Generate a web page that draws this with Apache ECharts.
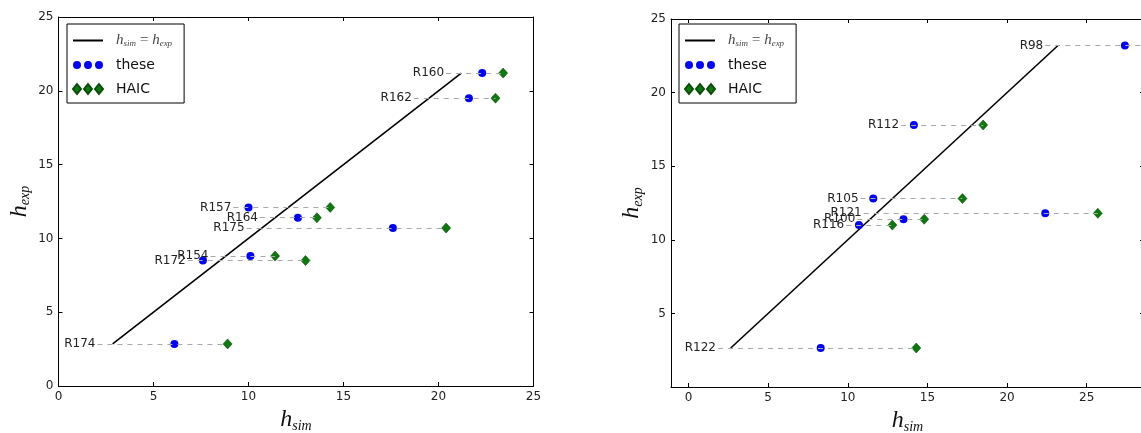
<!DOCTYPE html>
<html>
<head>
<meta charset="utf-8">
<script src="https://cdn.jsdelivr.net/npm/echarts@6/dist/echarts.min.js"></script>
<style>
  html, body { margin: 0; padding: 0; background: #fff; }
  #chart { width: 1141px; height: 433px; }
</style>
</head>
<body>
<div id="chart"></div>
<script>
// left panel
var names1 = ['R160', 'R162', 'R157', 'R164', 'R175', 'R154', 'R172', 'R174'];
var exp1   = [21.2, 19.5, 12.1, 11.4, 10.7, 8.8, 8.5, 2.85];
var these1 = [22.3, 21.6, 10.0, 12.6, 17.6, 10.1, 7.6, 6.1];
var haic1  = [23.4, 23.0, 14.3, 13.6, 20.4, 11.4, 13.0, 8.9];

// right panel
var names2 = ['R98', 'R112', 'R105', 'R121', 'R100', 'R116', 'R122'];
var exp2   = [23.2, 17.8, 12.8, 11.8, 11.4, 11.0, 2.65];
var these2 = [27.4, 14.15, 11.6, 22.4, 13.5, 10.7, 8.3];
var haic2  = [30.5, 18.5, 17.2, 25.7, 14.8, 12.8, 14.3];

var ticks = [0, 5, 10, 15, 20, 25, 30];

var FONT = 'DejaVu Sans';
var mathRich = {
  h: { fontFamily: 'Liberation Serif', fontStyle: 'italic', fontSize: 24, color: '#111' },
  s: { fontFamily: 'Liberation Serif', fontStyle: 'italic', fontSize: 14, color: '#111', padding: [12, 0, 0, 0] }
};

function pts(xs, ys) {
  return xs.map(function (x, i) { return [x, ys[i]]; });
}

// dashed guide from just left of the smallest value to the largest (cut at the axis end)
function guides(names, exp, these, haic, xMax) {
  return names.map(function (n, i) {
    var lo = Math.min(exp[i], these[i], haic[i]);
    var hi = Math.min(Math.max(exp[i], these[i], haic[i]), xMax);
    return [{ name: n, coord: [lo - 0.8, exp[i]] }, { coord: [hi, exp[i]] }];
  });
}

function panelSeries(ax, names, exp, these, haic, xMax) {
  var lo = Math.min.apply(null, exp), hi = Math.max.apply(null, exp);
  return [
    {
      name: 'guides', type: 'scatter', xAxisIndex: ax, yAxisIndex: ax, data: [], z: 1,
      markLine: {
        silent: true, symbol: ['none', 'none'], animation: false,
        lineStyle: { type: [5, 5], color: '#a8a8a8', width: 1 },
        label: { show: true, position: 'start', formatter: '{b}', fontFamily: FONT, fontSize: 12, color: '#222', distance: 2 },
        data: guides(names, exp, these, haic, xMax)
      }
    },
    {
      name: 'diag', type: 'line', xAxisIndex: ax, yAxisIndex: ax, z: 3,
      symbol: 'none', lineStyle: { color: '#000', width: 1.6 }, itemStyle: { color: '#000' },
      data: [[lo, lo], [hi, hi]]
    },
    {
      name: 'these', type: 'scatter', xAxisIndex: ax, yAxisIndex: ax, z: 4,
      symbol: 'circle', symbolSize: 8, itemStyle: { color: '#0000ff', opacity: 1 },
      data: pts(these, exp)
    },
    {
      name: 'HAIC', type: 'scatter', xAxisIndex: ax, yAxisIndex: ax, z: 4,
      symbol: 'diamond', symbolSize: [9, 10],
      itemStyle: { color: '#0a7a0a', borderColor: '#0b4d0b', borderWidth: 0.6, opacity: 1 },
      data: pts(haic, exp)
    }
  ];
}

function xAxes(grid, min, max) {
  var common = {
    type: 'value', gridIndex: grid, min: min, max: max, splitLine: { show: false },
    axisLine: { onZero: false, lineStyle: { color: '#000', width: 1 } }
  };
  return [
    Object.assign({}, common, {
      position: 'bottom',
      name: '{h|h}{s|sim}', nameLocation: 'middle', nameGap: 20,
      nameTextStyle: { rich: mathRich },
      axisTick: { inside: true, length: 4, lineStyle: { color: '#000' }, customValues: ticks },
      axisLabel: { fontFamily: FONT, fontSize: 12, color: '#222', margin: 5, customValues: ticks }
    }),
    Object.assign({}, common, {
      position: 'top',
      axisTick: { inside: true, length: 4, lineStyle: { color: '#000' }, customValues: ticks },
      axisLabel: { show: false }
    })
  ];
}

function yAxes(grid, showZero) {
  var common = {
    type: 'value', gridIndex: grid, min: 0, max: 25, interval: 5, splitLine: { show: false },
    axisLine: { show: true, onZero: false, lineStyle: { color: '#000', width: 1 } }
  };
  return [
    Object.assign({}, common, {
      position: 'left',
      name: '{h|h}{s|exp}', nameLocation: 'middle', nameGap: 26, nameRotate: 90,
      nameTextStyle: { rich: mathRich },
      axisTick: { inside: true, length: 4, lineStyle: { color: '#000' } },
      axisLabel: { fontFamily: FONT, fontSize: 12, color: '#222', margin: 5, showMinLabel: showZero }
    }),
    Object.assign({}, common, {
      position: 'right',
      axisTick: { inside: true, length: 4, lineStyle: { color: '#000' } },
      axisLabel: { show: false }
    })
  ];
}

var bar1 = 'path://M0,0L24,0L24,1.6L0,1.6Z';
var circles3 = 'path://M0,4a4,4 0 1,0 8,0a4,4 0 1,0 -8,0Z M11,4a4,4 0 1,0 8,0a4,4 0 1,0 -8,0Z M22,4a4,4 0 1,0 8,0a4,4 0 1,0 -8,0Z';
var diamonds3 = 'path://M4,0L8,5L4,10L0,5Z M15,0L19,5L15,10L11,5Z M26,0L30,5L26,10L22,5Z';

function legendAt(left, top) {
  return {
    orient: 'vertical', left: left, top: top,
    borderColor: '#000', borderWidth: 1, borderRadius: 0,
    padding: [9, 12, 7, 5], itemGap: 10, itemWidth: 30, itemHeight: 10,
    symbolKeepAspect: true, selectedMode: false,
    textStyle: {
      fontFamily: FONT, fontSize: 14, color: '#111', padding: [0, 0, 0, 8],
      rich: {
        a: { fontFamily: 'Liberation Serif', fontStyle: 'italic', fontSize: 15, color: '#444' },
        b: { fontFamily: 'Liberation Serif', fontStyle: 'italic', fontSize: 9, color: '#444', padding: [6, 0, 0, 0] }
      }
    },
    formatter: function (name) {
      return name === 'diag' ? '{a|h}{b|sim}{a|\u2009=\u2009h}{b|exp}' : name;
    },
    data: [
      { name: 'diag', icon: bar1 },
      { name: 'these', icon: circles3 },
      { name: 'HAIC', icon: diamonds3 }
    ]
  };
}

var chart = echarts.init(document.getElementById('chart'), null, { renderer: 'canvas' });
chart.setOption({
  backgroundColor: '#fff',
  animation: false,
  legend: [legendAt(67, 24), legendAt(679, 24)],
  grid: [
    { left: 58.5, right: 607.5, top: 17, bottom: 47, outerBoundsMode: 'none' },
    { left: 671, right: -3, top: 19, bottom: 46, outerBoundsMode: 'none' }
  ],
  xAxis: xAxes(0, 0, 25).concat(xAxes(1, -1.1, 28.6)),
  yAxis: yAxes(0, true).concat(yAxes(1, false)),
  series: panelSeries(0, names1, exp1, these1, haic1, 25)
    .concat(panelSeries(2, names2, exp2, these2, haic2, 28.6))
});
</script>
</body>
</html>
